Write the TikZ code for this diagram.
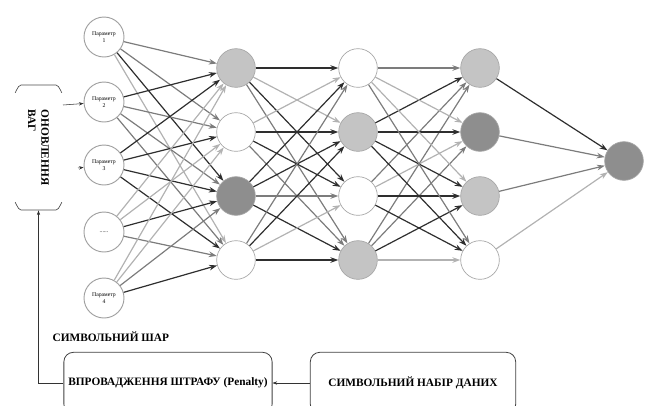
\documentclass[tikz,border=0pt]{standalone}
\usepackage{fontspec}
\setmainfont{Liberation Serif}
\usetikzlibrary{arrows.meta}
\definecolor{dk}{HTML}{2E2E2E}
\definecolor{md}{HTML}{7C7C7C}
\definecolor{lt}{HTML}{B2B2B2}
\definecolor{fl}{HTML}{C4C4C4}
\definecolor{fd}{HTML}{8E8E8E}
\begin{document}
\begin{tikzpicture}[x=0.75pt,y=-0.75pt,
  inp/.style={circle, draw=gray!75, line width=0.7pt, minimum size=30pt, inner sep=0pt,
    font=\fontsize{4.3}{5}\selectfont, align=center},
  neu/.style={circle, draw=gray!70, line width=0.5pt, minimum size=29pt, inner sep=0pt, fill=white},
  nl/.style={neu, fill=fl},
  nd/.style={neu, fill=fd},
  e/.style={-{Stealth[length=6pt,width=4.2pt]}, line width=0.9pt},
  thin/.style={-{Stealth[length=3.5pt,width=2.5pt]}, line width=0.4pt, black!80},
  lbl/.style={font=\fontsize{8.5}{10}\selectfont\bfseries},
  box/.style={draw=black!75, line width=0.6pt, rounded corners=7pt, minimum width=154pt, minimum height=46pt, lbl}
]
\useasboundingbox (0,0) rectangle (652,405);

% input nodes
\node[inp] (in1) at (104,37) {Параметр\\1};
\node[inp] (in2) at (104,102) {Параметр\\2};
\node[inp] (in3) at (104,165) {Параметр\\3};
\node[inp] (in4) at (104,232) {......};
\node[inp] (in5) at (104,298) {Параметр\\4};

% layer 1
\node[nl] (a1) at (236,68) {};
\node[neu] (a2) at (236,132) {};
\node[nd] (a3) at (236,196) {};
\node[neu] (a4) at (236,260) {};
% layer 2
\node[neu] (b1) at (358,68) {};
\node[nl] (b2) at (358,132) {};
\node[neu] (b3) at (358,196) {};
\node[nl] (b4) at (358,260) {};
% layer 3
\node[nl] (c1) at (480,68) {};
\node[nd] (c2) at (480,132) {};
\node[nl] (c3) at (480,196) {};
\node[neu] (c4) at (480,260) {};
% output
\node[nd] (o) at (624,161) {};

% input -> layer1
\foreach \s/\t/\c in {1/1/md,1/2/md,1/3/dk,1/4/lt,
  2/1/dk,2/2/md,2/3/md,2/4/md,
  3/1/dk,3/2/dk,3/3/dk,3/4/dk,
  4/1/lt,4/2/lt,4/3/dk,4/4/md,
  5/1/lt,5/2/lt,5/3/md,5/4/dk}
  \draw[e,\c] (in\s) -- (a\t);

% layer1 -> layer2
\foreach \s/\t/\c in {1/1/dk,1/2/lt,1/3/dk,1/4/md,
  2/1/lt,2/2/dk,2/3/dk,2/4/md,
  3/1/dk,3/2/dk,3/3/md,3/4/dk,
  4/1/md,4/2/dk,4/3/lt,4/4/dk}
  \draw[e,\c] (a\s) -- (b\t);

% layer2 -> layer3
\foreach \s/\t/\c in {1/1/md,2/1/dk,3/1/md,4/1/md,
  1/2/lt,2/2/dk,3/2/lt,4/2/md,
  1/3/lt,2/3/dk,3/3/dk,4/3/dk,
  1/4/md,2/4/dk,3/4/dk,4/4/lt}
  \draw[e,\c] (b\s) -- (c\t);

% layer3 -> output
\draw[e,dk] (c1) -- (o);
\draw[e,md] (c2) -- (o);
\draw[e,md] (c3) -- (o);
\draw[e,lt] (c4) -- (o);

% left box
\node[lbl, rotate=-90, align=left, minimum width=94pt, minimum height=35pt] (lbox) at (38.5,147.5) {ОНОВЛЕННЯ\\ВАГ};
\draw[black!70, line width=0.5pt] (15,92) to[out=-90,in=180] (21,85) -- (56,85) to[out=0,in=-90] (62,92);
\draw[black!70, line width=0.5pt] (15,203) to[out=90,in=180] (21,210) -- (56,210) to[out=0,in=90] (62,203);
\coordinate (l2) at (63,105);
\coordinate (l3) at (78,168);
\draw[thin] (l2) -- (in2);
\draw[thin] (l3) -- (in3);

% bottom
\node[lbl, anchor=west] (sh) at (48,337) {СИМВОЛЬНИЙ ШАР};
\node[box] (pen) at (168,383) {ВПРОВАДЖЕННЯ ШТРАФУ (Penalty)};
\node[box] (dat) at (413,383) {СИМВОЛЬНИЙ НАБІР ДАНИХ};
\draw[thin] (dat) -- (pen);
\draw[thin] (pen.west) -| (lbox.east);
\end{tikzpicture}
\end{document}
